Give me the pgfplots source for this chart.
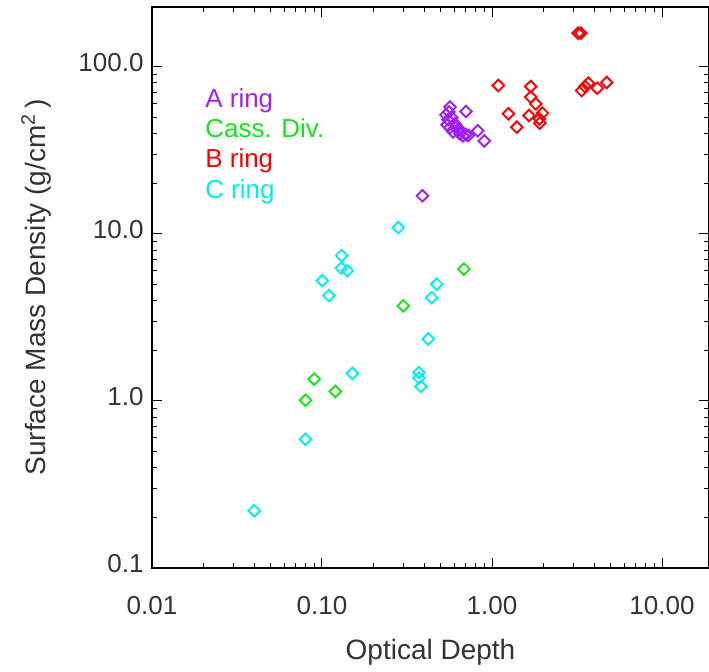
\documentclass[border=0pt]{standalone}
\usepackage{fontspec}
\setmainfont{Liberation Sans}
\usepackage{pgfplots}
\pgfplotsset{compat=1.18}
\definecolor{aring}{RGB}{160,32,240}
\definecolor{cass}{RGB}{20,230,20}
\definecolor{bring}{RGB}{250,0,0}
\definecolor{cring}{RGB}{0,238,238}
\pgfplotsset{dia/.style={only marks, mark=square, mark size=2.05pt, mark options={rotate=45, line width=0.95pt, solid, fill=none}}}
\begin{document}
\begin{tikzpicture}
\useasboundingbox (-76pt,-52pt) rectangle (278.5pt,284pt);
\begin{axis}[
  at={(0,0)}, anchor=south west,
  scale only axis, width=278.5pt, height=280.5pt,
  xmode=log, ymode=log,
  xmin=0.01, xmax=18.9, ymin=0.1, ymax=228,
  xtick={0.01,0.1,1,10}, xticklabels={0.01,0.10,1.00,10.00},
  ytick={0.1,1,10,100}, yticklabels={0.1,1.0,10.0,100.0},
  tick align=inside, major tick length=5pt, minor tick length=2.5pt,
  axis line style={line width=0.6pt},
  every tick/.style={black, line width=0.5pt},
  ticklabel style={font=\fontsize{13}{15}\selectfont, text=black!80},
  xticklabel style={yshift=-10.7pt},
  yticklabel style={xshift=-0.7pt, yshift=2pt},
  xlabel={Optical Depth},
  ylabel={Surface Mass Density (g/cm\textsuperscript{2}\,)},
  label style={font=\fontsize{14}{16}\selectfont, text=black!80},
  xlabel style={at={(axis description cs:0.5,-0.15)}, anchor=center},
  ylabel style={at={(axis description cs:-0.208,0.5)}, anchor=center},
]
% C ring
\addplot[dia, draw=cring] coordinates {
(0.040,0.22) (0.080,0.59) (0.1005,5.25) (0.110,4.27) (0.1305,7.42) (0.130,6.23)
(0.141,6.03) (0.151,1.46) (0.281,10.9) (0.372,1.48) (0.372,1.37) (0.382,1.22)
(0.422,2.35) (0.442,4.15) (0.473,5.0)
};
% Cassini Division
\addplot[dia, draw=cass] coordinates {
(0.080,1.01) (0.090,1.35) (0.120,1.14) (0.301,3.71) (0.684,6.15)
};
% B ring
\addplot[dia, draw=bring] coordinates {
(1.09,77.3) (1.69,76.2) (1.69,65.9) (1.81,60.0) (1.25,52.3) (1.65,51.1)
(1.98,52.8) (1.90,48.8) (1.91,46.0) (1.40,43.5) (3.21,159) (3.33,159)
(3.37,72.1) (3.52,76.2) (3.69,79.8) (4.16,74.5) (4.73,80.5)
};
% A ring
\addplot[dia, draw=aring] coordinates {
(0.39,16.9) (0.566,57.4) (0.703,54.0) (0.824,41.4) (0.901,36.0) (0.726,38.8)
(0.536,51.6) (0.551,48.2) (0.544,45.0) (0.566,43.2) (0.582,49.5) (0.606,45.6)
(0.590,40.8) (0.631,42.0) (0.648,39.7) (0.675,38.6) (0.558,53.6) (0.614,43.2)
(0.657,41.4) (0.703,39.2)
};
\node[anchor=base west, inner sep=0pt, text=aring, font=\fontsize{13}{15}\selectfont] at (rel axis cs:0.095,0.820) {A ring};
\node[anchor=base west, inner sep=0pt, text=cass, font=\fontsize{13}{15}\selectfont] at (rel axis cs:0.095,0.7665) {Cass. Div.};
\node[anchor=base west, inner sep=0pt, text=bring, font=\fontsize{13}{15}\selectfont] at (rel axis cs:0.095,0.713) {B ring};
\node[anchor=base west, inner sep=0pt, text=cring, font=\fontsize{13}{15}\selectfont] at (rel axis cs:0.095,0.6595) {C ring};
\end{axis}
\end{tikzpicture}
\end{document}
